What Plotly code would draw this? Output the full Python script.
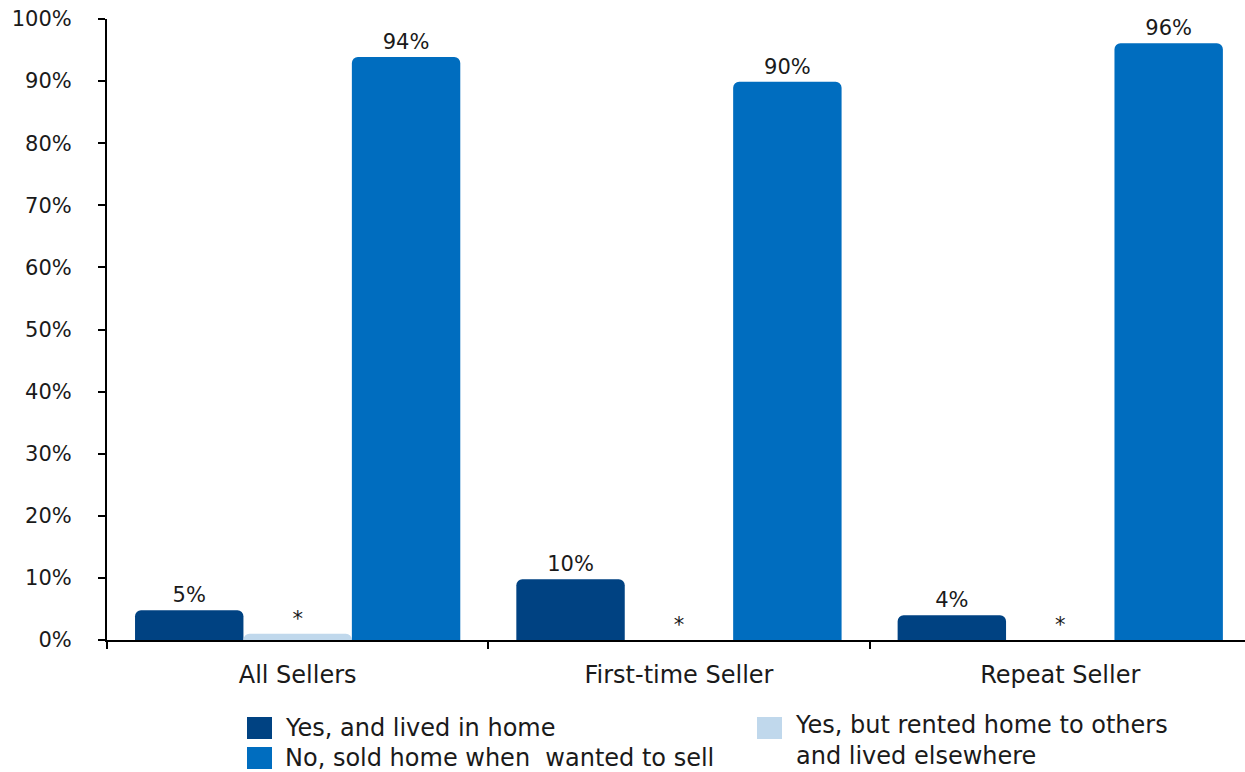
import plotly.graph_objects as go

categories = ["All Sellers", "First-time Seller", "Repeat Seller"]
series_names = ["Yes, and lived in home",
                "Yes, but rented home to others<br>and lived elsewhere",
                "No, sold home when  wanted to sell"]
lived_in_home = [4.8, 9.8, 4.0]
rented_to_others = [1.0, 0.0, 0.0]
sold_when_wanted = [93.9, 89.9, 96.1]
lived_labels = ["5%", "10%", "4%"]
rented_labels = ["*", "*", "*"]
sold_labels = ["94%", "90%", "96%"]
colors = ["#004282", "#C0D8EC", "#006DBF"]
y_ticks = list(range(0, 101, 10))

FONT = "DejaVu Sans, sans-serif"
TXT = "#1a1a1a"

W, H = 1245, 772
ML, MT, MB = 107, 19, 132
PW, PH = W - ML, H - MT - MB


def px_x(x):
    return (x - ML) / PW


def px_y(y):
    return (H - MB - y) / PH


fig = go.Figure()
for name, vals, labels, col in [
    (series_names[0], lived_in_home, lived_labels, colors[0]),
    (series_names[1], rented_to_others, rented_labels, colors[1]),
    (series_names[2], sold_when_wanted, sold_labels, colors[2]),
]:
    fig.add_trace(go.Bar(
        x=categories, y=vals, name=name, marker_color=col,
        marker_line_width=0, showlegend=False,
        text=labels, textposition="outside", cliponaxis=False,
        textfont=dict(size=21, color=TXT, family=FONT),
    ))

# custom legend: squares + text
legend_items = [
    (series_names[0], colors[0], 247, 717, 284, 728),
    (series_names[2], colors[2], 247, 747, 284, 758),
    (series_names[1], colors[1], 757, 717, 794, 740),
]
for name, col, sx, sy, tx, ty in legend_items:
    fig.add_shape(type="rect", xref="paper", yref="paper",
                  x0=px_x(sx), x1=px_x(sx + 25), y0=px_y(sy), y1=px_y(sy + 22),
                  fillcolor=col, line_width=0, layer="above")
    fig.add_annotation(xref="paper", yref="paper", x=px_x(tx), y=px_y(ty),
                       xanchor="left", yanchor="middle", align="left",
                       text=name, showarrow=False, borderpad=0,
                       font=dict(family=FONT, size=24, color=TXT))

fig.update_layout(
    width=W, height=H,
    paper_bgcolor="white", plot_bgcolor="white",
    font=dict(family=FONT, size=20, color=TXT),
    margin=dict(l=ML, r=0, t=MT, b=MB, autoexpand=False),
    barmode="group", bargap=0.147, bargroupgap=0,
    barcornerradius=6,
    showlegend=False,
)
fig.update_yaxes(range=[0, 100], tickvals=y_ticks, ticktext=[f"{v}%" for v in y_ticks],
                 showline=True, linecolor="black", linewidth=2,
                 ticks="outside", ticklen=7, tickwidth=2, tickcolor="black",
                 showgrid=False, zeroline=False, ticklabelstandoff=22,
                 tickfont=dict(size=21), automargin=False)
fig.update_xaxes(range=[-0.5, 2.4845],
                 showline=True, linecolor="black", linewidth=2,
                 ticks="outside", tickson="boundaries", ticklen=7, tickwidth=2,
                 tickcolor="black", showgrid=False, ticklabelstandoff=12,
                 tickfont=dict(size=24), automargin=False)

fig.write_html("out.html", config={"displayModeBar": False},
               post_script="document.body.style.margin='0px';document.body.style.padding='0px';")
